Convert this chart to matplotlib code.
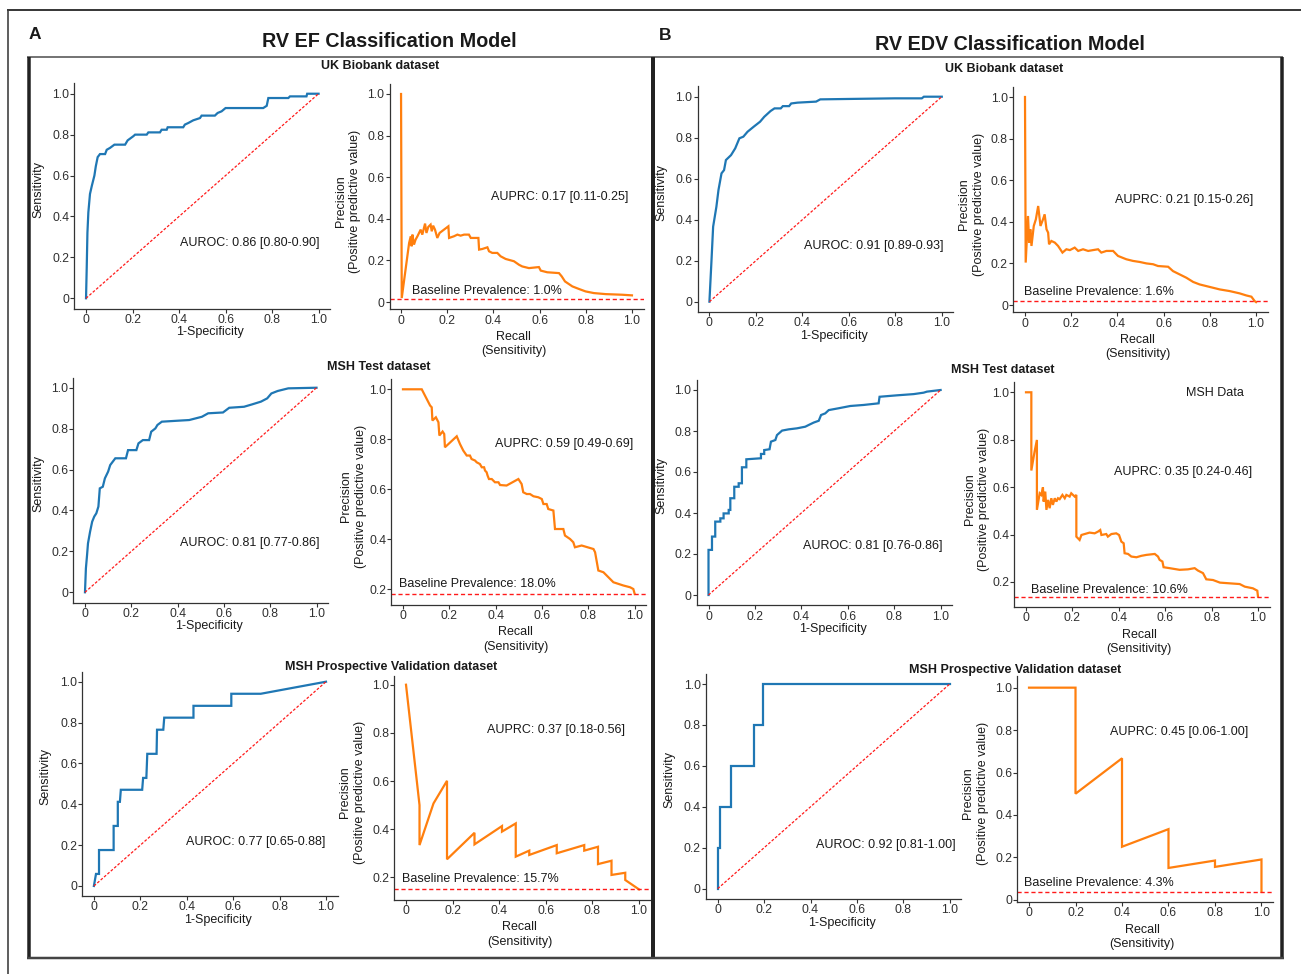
import matplotlib
matplotlib.use('Agg')
import matplotlib.pyplot as plt
from matplotlib.lines import Line2D

plt.rcParams['font.family'] = ['Liberation Sans', 'DejaVu Sans']

# ---------------- DATA ----------------
tick_values = [0, 0.2, 0.4, 0.6, 0.8, 1.0]
tick_labels = ['0', '0.2', '0.4', '0.6', '0.8', '1.0']

# Panel A (RV EF) - UK Biobank
a1_roc_fpr = [0, 0.003, 0.006, 0.010, 0.017, 0.025, 0.036, 0.042, 0.050, 0.060,
              0.082, 0.089, 0.103, 0.122, 0.168, 0.179, 0.203, 0.211, 0.261, 0.268,
              0.318, 0.325, 0.347, 0.351, 0.418, 0.425, 0.440, 0.461, 0.490, 0.497,
              0.554, 0.566, 0.583, 0.600, 0.762, 0.777, 0.784, 0.870, 0.877, 0.948,
              0.951, 1.0]
a1_roc_tpr = [0, 0.15, 0.32, 0.42, 0.51, 0.55, 0.60, 0.645, 0.69, 0.705,
              0.705, 0.726, 0.735, 0.751, 0.751, 0.772, 0.792, 0.80, 0.80, 0.811,
              0.811, 0.824, 0.824, 0.836, 0.836, 0.849, 0.857, 0.870, 0.881, 0.893,
              0.893, 0.906, 0.914, 0.930, 0.930, 0.941, 0.979, 0.979, 0.987, 0.987,
              1.0, 1.0]
a1_pr_recall = [0, 0.003, 0.035, 0.042, 0.046, 0.049, 0.056, 0.063, 0.071, 0.085,
                0.092, 0.104, 0.110, 0.118, 0.128, 0.133, 0.139, 0.147, 0.157, 0.167,
                0.205, 0.208, 0.229, 0.244, 0.258, 0.273, 0.294, 0.302, 0.335, 0.338,
                0.352, 0.374, 0.381, 0.395, 0.417, 0.431, 0.453, 0.489, 0.511, 0.525,
                0.554, 0.597, 0.605, 0.633, 0.684, 0.696, 0.710, 0.742, 0.771, 0.799,
                0.835, 0.886, 0.958, 1.0]
a1_pr_precision = [1.0, 0.019, 0.284, 0.316, 0.268, 0.324, 0.276, 0.300, 0.316, 0.348,
                   0.324, 0.377, 0.332, 0.361, 0.372, 0.340, 0.367, 0.348, 0.308, 0.332,
                   0.364, 0.308, 0.316, 0.324, 0.319, 0.324, 0.324, 0.308, 0.308, 0.252,
                   0.255, 0.263, 0.244, 0.236, 0.236, 0.220, 0.207, 0.196, 0.179, 0.171,
                   0.163, 0.168, 0.151, 0.143, 0.139, 0.123, 0.099, 0.075, 0.0625, 0.051,
                   0.043, 0.038, 0.035, 0.032]
a1_baseline = 0.014

# Panel A - MSH Test
a2_roc_fpr = [0, 0.004, 0.009, 0.013, 0.022, 0.031, 0.040, 0.049, 0.058, 0.064,
              0.077, 0.086, 0.100, 0.109, 0.131, 0.177, 0.186, 0.222, 0.231, 0.250,
              0.277, 0.286, 0.304, 0.313, 0.332, 0.404, 0.450, 0.505, 0.532, 0.596,
              0.623, 0.687, 0.723, 0.760, 0.787, 0.805, 0.832, 0.878, 1.0]
a2_roc_tpr = [0, 0.117, 0.182, 0.239, 0.296, 0.345, 0.370, 0.386, 0.419, 0.508,
              0.516, 0.557, 0.590, 0.622, 0.655, 0.655, 0.695, 0.695, 0.728, 0.744,
              0.744, 0.785, 0.801, 0.818, 0.834, 0.839, 0.842, 0.858, 0.875, 0.879,
              0.902, 0.907, 0.919, 0.932, 0.948, 0.972, 0.984, 0.997, 1.0]
a2_pr_recall = [0, 0.081, 0.117, 0.124, 0.127, 0.142, 0.153, 0.157, 0.171, 0.178,
                0.181, 0.232, 0.246, 0.260, 0.275, 0.289, 0.296, 0.311, 0.318, 0.332,
                0.340, 0.350, 0.354, 0.361, 0.365, 0.371, 0.383, 0.397, 0.412, 0.419,
                0.447, 0.498, 0.512, 0.519, 0.534, 0.548, 0.563, 0.584, 0.599, 0.606,
                0.620, 0.627, 0.649, 0.656, 0.692, 0.699, 0.721, 0.735, 0.742, 0.771,
                0.822, 0.829, 0.843, 0.865, 0.879, 0.894, 0.908, 0.951, 0.980, 0.994,
                1.0]
a2_pr_precision = [1.0, 1.0, 0.935, 0.928, 0.875, 0.888, 0.868, 0.815, 0.831, 0.821,
                   0.768, 0.812, 0.781, 0.755, 0.735, 0.735, 0.721, 0.715, 0.708, 0.701,
                   0.688, 0.688, 0.675, 0.668, 0.655, 0.641, 0.641, 0.628, 0.628, 0.617,
                   0.615, 0.641, 0.621, 0.588, 0.581, 0.581, 0.572, 0.568, 0.561, 0.541,
                   0.541, 0.521, 0.515, 0.441, 0.441, 0.415, 0.401, 0.388, 0.368, 0.375,
                   0.361, 0.348, 0.275, 0.268, 0.255, 0.241, 0.228, 0.215, 0.208, 0.201,
                   0.181]
a2_baseline = 0.181

# Panel A - MSH Prospective Validation
a3_roc_fpr = [0, 0.009, 0.022, 0.022, 0.085, 0.085, 0.103, 0.103, 0.112, 0.116,
              0.208, 0.212, 0.226, 0.230, 0.270, 0.272, 0.299, 0.303, 0.429, 0.429,
              0.592, 0.592, 0.719, 1.0]
a3_roc_tpr = [0, 0.059, 0.059, 0.176, 0.176, 0.294, 0.294, 0.412, 0.412, 0.471,
              0.471, 0.529, 0.529, 0.647, 0.647, 0.765, 0.765, 0.824, 0.824, 0.882,
              0.882, 0.941, 0.941, 1.0]
a3_pr_recall = [0, 0.058, 0.058, 0.118, 0.176, 0.176, 0.294, 0.294, 0.412, 0.412,
                0.471, 0.471, 0.529, 0.529, 0.647, 0.647, 0.765, 0.765, 0.824, 0.824,
                0.882, 0.882, 0.941, 0.941, 1.0]
a3_pr_precision = [1.0, 0.50, 0.334, 0.507, 0.601, 0.275, 0.385, 0.337, 0.413, 0.390,
                   0.424, 0.286, 0.311, 0.293, 0.334, 0.300, 0.334, 0.311, 0.327, 0.255,
                   0.269, 0.210, 0.219, 0.189, 0.150]
a3_baseline = 0.150

# Panel B (RV EDV) - UK Biobank
b1_roc_fpr = [0, 0.009, 0.016, 0.030, 0.039, 0.052, 0.063, 0.071, 0.093, 0.111,
              0.129, 0.146, 0.164, 0.191, 0.218, 0.236, 0.263, 0.280, 0.307, 0.316,
              0.343, 0.352, 0.379, 0.459, 0.477, 0.600, 0.798, 0.914, 0.923, 1.0]
b1_roc_tpr = [0, 0.203, 0.366, 0.463, 0.545, 0.626, 0.642, 0.691, 0.715, 0.748,
              0.797, 0.805, 0.829, 0.854, 0.878, 0.902, 0.930, 0.943, 0.943, 0.954,
              0.954, 0.967, 0.971, 0.976, 0.987, 0.989, 0.992, 0.992, 1.0, 1.0]
b1_pr_recall = [0.001, 0.004, 0.014, 0.019, 0.024, 0.029, 0.039, 0.048, 0.058, 0.068,
                0.079, 0.086, 0.094, 0.101, 0.105, 0.115, 0.130, 0.144, 0.163, 0.180,
                0.195, 0.216, 0.231, 0.252, 0.274, 0.295, 0.317, 0.331, 0.353, 0.382,
                0.403, 0.439, 0.468, 0.497, 0.526, 0.555, 0.576, 0.620, 0.641, 0.670,
                0.699, 0.728, 0.756, 0.785, 0.814, 0.843, 0.886, 0.929, 0.958, 0.980,
                0.994, 1.0]
b1_pr_precision = [1.0, 0.204, 0.428, 0.300, 0.364, 0.284, 0.380, 0.412, 0.476, 0.380,
                   0.412, 0.436, 0.364, 0.348, 0.292, 0.308, 0.300, 0.284, 0.252, 0.268,
                   0.264, 0.276, 0.260, 0.268, 0.260, 0.264, 0.268, 0.252, 0.260, 0.260,
                   0.236, 0.220, 0.212, 0.207, 0.200, 0.196, 0.1875, 0.184, 0.163, 0.147,
                   0.131, 0.111, 0.099, 0.091, 0.083, 0.075, 0.067, 0.056, 0.046, 0.040,
                   0.019, 0.014]
b1_baseline = 0.018

# Panel B - MSH Test
b2_roc_fpr = [0, 0, 0.015, 0.015, 0.029, 0.029, 0.051, 0.051, 0.065, 0.065,
              0.087, 0.087, 0.094, 0.094, 0.111, 0.111, 0.130, 0.130, 0.144, 0.144,
              0.163, 0.163, 0.226, 0.226, 0.240, 0.240, 0.263, 0.269, 0.288, 0.295,
              0.317, 0.345, 0.381, 0.417, 0.431, 0.453, 0.475, 0.485, 0.503, 0.518,
              0.561, 0.611, 0.668, 0.733, 0.737, 0.812, 0.884, 0.927, 0.941, 1.0]
b2_roc_tpr = [0, 0.220, 0.220, 0.285, 0.285, 0.358, 0.358, 0.374, 0.374, 0.398,
              0.398, 0.415, 0.415, 0.472, 0.472, 0.528, 0.528, 0.545, 0.545, 0.623,
              0.623, 0.662, 0.667, 0.688, 0.688, 0.707, 0.711, 0.748, 0.756, 0.780,
              0.802, 0.808, 0.813, 0.821, 0.829, 0.841, 0.850, 0.878, 0.886, 0.902,
              0.911, 0.922, 0.927, 0.935, 0.967, 0.974, 0.980, 0.987, 0.992, 1.0]
b2_pr_recall = [0, 0.023, 0.023, 0.037, 0.047, 0.047, 0.059, 0.066, 0.073, 0.076,
                0.083, 0.088, 0.095, 0.102, 0.109, 0.116, 0.124, 0.131, 0.138, 0.145,
                0.157, 0.167, 0.174, 0.188, 0.195, 0.210, 0.217, 0.217, 0.231, 0.239,
                0.253, 0.274, 0.296, 0.310, 0.320, 0.325, 0.346, 0.353, 0.368, 0.389,
                0.401, 0.411, 0.421, 0.425, 0.440, 0.454, 0.476, 0.497, 0.519, 0.555,
                0.569, 0.576, 0.588, 0.593, 0.619, 0.662, 0.698, 0.727, 0.741, 0.763,
                0.777, 0.806, 0.836, 0.878, 0.921, 0.943, 0.978, 0.997, 1.0]
b2_pr_precision = [1.0, 1.0, 0.670, 0.750, 0.799, 0.504, 0.574, 0.567, 0.599, 0.539,
                   0.581, 0.504, 0.546, 0.511, 0.553, 0.525, 0.553, 0.539, 0.553, 0.549,
                   0.567, 0.553, 0.567, 0.560, 0.574, 0.560, 0.567, 0.391, 0.377, 0.398,
                   0.402, 0.408, 0.405, 0.412, 0.419, 0.398, 0.402, 0.391, 0.402, 0.405,
                   0.398, 0.370, 0.363, 0.321, 0.318, 0.307, 0.304, 0.310, 0.314, 0.318,
                   0.307, 0.293, 0.286, 0.262, 0.258, 0.251, 0.253, 0.258, 0.248, 0.237,
                   0.211, 0.208, 0.197, 0.194, 0.191, 0.180, 0.173, 0.163, 0.138]
b2_baseline = 0.138

# Panel B - MSH Prospective Validation
b3_roc_fpr = [0, 0, 0.009, 0.009, 0.057, 0.057, 0.156, 0.156, 0.195, 0.195, 1.0]
b3_roc_tpr = [0, 0.2, 0.2, 0.4, 0.4, 0.6, 0.6, 0.8, 0.8, 1.0, 1.0]
b3_pr_recall = [0, 0.2, 0.2, 0.4, 0.4, 0.6, 0.6, 0.8, 0.8, 1.0, 1.0]
b3_pr_precision = [1.0, 1.0, 0.5, 0.667, 0.25, 0.333, 0.15, 0.185, 0.155, 0.19, 0.037]
b3_baseline = 0.037

auroc_texts = ['AUROC: 0.86 [0.80-0.90]', 'AUROC: 0.81 [0.77-0.86]', 'AUROC: 0.77 [0.65-0.88]',
               'AUROC: 0.91 [0.89-0.93]', 'AUROC: 0.81 [0.76-0.86]', 'AUROC: 0.92 [0.81-1.00]']
auprc_texts = ['AUPRC: 0.17 [0.11-0.25]', 'AUPRC: 0.59 [0.49-0.69]', 'AUPRC: 0.37 [0.18-0.56]',
               'AUPRC: 0.21 [0.15-0.26]', 'AUPRC: 0.35 [0.24-0.46]', 'AUPRC: 0.45 [0.06-1.00]']
baseline_texts = ['Baseline Prevalence: 1.0%', 'Baseline Prevalence: 18.0%',
                  'Baseline Prevalence: 15.7%', 'Baseline Prevalence: 1.6%',
                  'Baseline Prevalence: 10.6%', 'Baseline Prevalence: 4.3%']
dataset_titles = ['UK Biobank dataset', 'MSH Test dataset', 'MSH Prospective Validation dataset']
main_titles = ['RV EF Classification Model', 'RV EDV Classification Model']

# ---------------- FIGURE ----------------
W, H = 1301, 974
fig = plt.figure(figsize=(W / 100, H / 100), dpi=100)
BLUE = '#1f77b4'
ORANGE = '#ff7f0e'
TXT = '#1a1a1a'
TICKC = '#303030'


def fxp(px):
    return px / W


def fyp(py):
    return 1 - py / H


def add_axes(rect):
    l, t, r, b = rect
    return fig.add_axes([fxp(l), fyp(b), (r - l) / W, (b - t) / H])


def style(ax, xlim, ylim, yticks):
    ax.set_xlim(xlim)
    ax.set_ylim(ylim)
    ax.set_xticks(tick_values)
    ax.set_xticklabels(tick_labels)
    ax.set_yticks(yticks)
    ax.set_yticklabels([tick_labels[tick_values.index(v)] for v in yticks])
    for s in ['top', 'right']:
        ax.spines[s].set_visible(False)
    for s in ['left', 'bottom']:
        ax.spines[s].set_linewidth(0.9)
        ax.spines[s].set_color('#333333')
    ax.tick_params(length=2.6, width=0.8, pad=1.2, labelsize=8.8,
                   colors='#333333', labelcolor=TICKC)
    ax.patch.set_alpha(0)


def fig_line(x0, y0, x1, y1, lw_px, color):
    fig.add_artist(Line2D([fxp(x0), fxp(x1)], [fyp(y0), fyp(y1)],
                          transform=fig.transFigure, color=color,
                          lw=lw_px * 0.72, solid_capstyle='butt'))


# frame lines
fig_line(7, 10, 1301, 10, 2.0, '#3a3a3a')
fig_line(7.5, 10, 7.5, 974, 1.6, '#3a3a3a')
fig_line(27, 57, 653, 57, 1.6, '#555555')
fig_line(653, 57, 1283, 57, 1.6, '#555555')
fig_line(29, 57, 29, 958, 3.5, '#222222')
fig_line(653, 57, 653, 958, 4.0, '#222222')
fig_line(1282, 57, 1282, 958, 3.5, '#222222')
fig_line(27, 957.5, 1284, 957.5, 2.5, '#444444')

# titles
fig.text(fxp(29), fyp(39), 'A', fontsize=12.5, fontweight='bold', ha='left', va='baseline', color=TXT)
fig.text(fxp(659), fyp(40), 'B', fontsize=12.5, fontweight='bold', ha='left', va='baseline', color=TXT)
fig.text(fxp(389), fyp(47), main_titles[0], fontsize=14.2, fontweight='bold', ha='center', va='baseline', color=TXT)
fig.text(fxp(1010), fyp(49.5), main_titles[1], fontsize=14.2, fontweight='bold', ha='center', va='baseline', color=TXT)

title_pos = [(380.5, 69), (379, 370), (391.4, 670), (1004, 71.5), (1002.5, 373), (1014.8, 672.5)]

# layout per panel: roc rect, pr rect, pr ylim, pr yticks, text positions
panels = [
    dict(roc=(74.4, 83.5, 330.2, 308.5), pr=(389.5, 83.8, 643.5, 309.3), prylim=(-0.035, 1.049),
         pryt=tick_values, auroc_xy=(0.705, 0.27), auprc_xy=(0.688, 0.505), base_xy=(0.048, 0.053),
         roc_lab=-36.3, pr_lab=-41.5,
         roc_fpr=a1_roc_fpr, roc_tpr=a1_roc_tpr, rec=a1_pr_recall, prec=a1_pr_precision, base=a1_baseline),
    dict(roc=(73.4, 377.5, 328.1, 602.5), pr=(391.4, 379.05, 646.3, 604.5), prylim=(0.139, 1.041),
         pryt=tick_values[1:], auroc_xy=(0.713, 0.241), auprc_xy=(0.695, 0.781), base_xy=(-0.017, 0.221),
         roc_lab=-35.4, pr_lab=-38.0,
         roc_fpr=a2_roc_fpr, roc_tpr=a2_roc_tpr, rec=a2_pr_recall, prec=a2_pr_precision, base=a2_baseline),
    dict(roc=(82.3, 671.5, 337.6, 896.2), pr=(394.35, 676.3, 650.65, 899.5), prylim=(0.108, 1.035),
         pryt=tick_values[1:], auroc_xy=(0.698, 0.215), auprc_xy=(0.644, 0.812), base_xy=(-0.017, 0.193),
         roc_lab=-37.0, pr_lab=-42.0,
         roc_fpr=a3_roc_fpr, roc_tpr=a3_roc_tpr, rec=a3_pr_recall, prec=a3_pr_precision, base=a3_baseline),
    dict(roc=(697.8, 86.45, 953.4, 311.95), pr=(1013.2, 86.6, 1267.6, 312.3), prylim=(-0.035, 1.05),
         pryt=tick_values, auroc_xy=(0.708, 0.272), auprc_xy=(0.689, 0.505), base_xy=(-0.003, 0.0625),
         roc_lab=-36.6, pr_lab=-42.0,
         roc_fpr=b1_roc_fpr, roc_tpr=b1_roc_tpr, rec=b1_pr_recall, prec=b1_pr_precision, base=b1_baseline),
    dict(roc=(696.9, 379.75, 952.2, 605.25), pr=(1014.4, 382.1, 1269.6, 606.8), prylim=(0.095, 1.043),
         pryt=tick_values[1:], auroc_xy=(0.709, 0.239), auprc_xy=(0.677, 0.664), base_xy=(0.022, 0.166),
         roc_lab=-35.4, pr_lab=-37.4,
         roc_fpr=b2_roc_fpr, roc_tpr=b2_roc_tpr, rec=b2_pr_recall, prec=b2_pr_precision, base=b2_baseline),
    dict(roc=(706.1, 673.8, 961.3, 898.9), pr=(1017.4, 676.0, 1273.1, 902.1), prylim=(-0.011, 1.055),
         pryt=tick_values, auroc_xy=(0.725, 0.213), auprc_xy=(0.645, 0.791), base_xy=(-0.022, 0.08),
         roc_lab=-36.8, pr_lab=-41.7,
         roc_fpr=b3_roc_fpr, roc_tpr=b3_roc_tpr, rec=b3_pr_recall, prec=b3_pr_precision, base=b3_baseline),
]

for i, p in enumerate(panels):
    # dataset title
    tx, ty = title_pos[i]
    fig.text(fxp(tx), fyp(ty), dataset_titles[i % 3], fontsize=9, fontweight='bold',
             ha='center', va='baseline', color=TXT)

    # ROC
    ax = add_axes(p['roc'])
    style(ax, (-0.05, 1.05), (-0.05, 1.05), tick_values)
    ax.plot(p['roc_fpr'], p['roc_tpr'], color=BLUE, lw=1.6, solid_joinstyle='miter')
    ax.plot([0, 1], [0, 1], color='#ff1a1a', lw=0.9, ls=(0, (2.2, 1.4)))
    ax.text(p['auroc_xy'][0], p['auroc_xy'][1], auroc_texts[i], fontsize=9, ha='center',
            va='center', color=TXT)
    l, t, r, b = p['roc']
    fig.text(fxp(l + p['roc_lab']), fyp((t + b) / 2 - 7), 'Sensitivity', rotation=90,
             fontsize=9, ha='center', va='center', color=TXT)
    fig.text(fxp((l + r) / 2 + 8), fyp(b + 24), '1-Specificity', fontsize=9,
             ha='center', va='center', color=TXT)

    # PR
    ax = add_axes(p['pr'])
    style(ax, (-0.05, 1.05), p['prylim'], p['pryt'])
    ax.plot(p['rec'], p['prec'], color=ORANGE, lw=1.6, solid_joinstyle='miter')
    ax.axhline(p['base'], color='#ff1a1a', lw=1.0, ls=(0, (3, 2)))
    ax.text(p['auprc_xy'][0], p['auprc_xy'][1], auprc_texts[i], fontsize=9, ha='center',
            va='center', color=TXT)
    ax.text(p['base_xy'][0], p['base_xy'][1], baseline_texts[i], fontsize=9, ha='left',
            va='center', color=TXT)
    if i == 4:
        ax.text(0.815, 0.997, 'MSH Data', fontsize=9, ha='center', va='center', color=TXT)
    l, t, r, b = p['pr']
    fig.text(fxp(l + p['pr_lab']), fyp((t + b) / 2 + 4.5),
             'Precision\n(Positive predictive value)', rotation=90, fontsize=9,
             ha='center', va='center', multialignment='center', linespacing=1.3, color=TXT)
    fig.text(fxp((l + r) / 2 - 3), fyp(b + 35), 'Recall\n(Sensitivity)', fontsize=9,
             ha='center', va='center', multialignment='center', linespacing=1.25, color=TXT)

fig.savefig('out.png', dpi=100)
